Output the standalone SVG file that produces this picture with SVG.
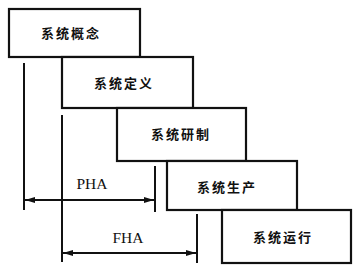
<svg xmlns="http://www.w3.org/2000/svg" width="361" height="270" viewBox="0 0 361 270">
<defs>
<style>
.box{fill:#fff;stroke:#111;stroke-width:2.2}
.lbl{font-family:"Noto Sans CJK SC","Noto Sans CJK JP",sans-serif;font-weight:bold;font-size:13px;fill:#111;text-anchor:middle;letter-spacing:2px}
.ln{stroke:#111;stroke-width:2;fill:none}
.dim{font-family:"Liberation Serif",serif;font-size:15.5px;fill:#111;text-anchor:middle}
</style>
<marker id="ah" viewBox="0 0 10 6" refX="10" refY="3" markerWidth="10" markerHeight="6" markerUnits="userSpaceOnUse" orient="auto-start-reverse">
<path d="M0,0 L10,3 L0,6 z" fill="#111"/>
</marker>
</defs>
<g id="n1"><rect class="box" x="9" y="9" width="131" height="48"/><text class="lbl" x="71" y="38">系统概念</text></g>
<g id="n2"><rect class="box" x="62" y="57" width="131" height="51"/><text class="lbl" x="124" y="88">系统定义</text></g>
<g id="n3"><rect class="box" x="117" y="108" width="129" height="53"/><text class="lbl" x="181" y="139">系统研制</text></g>
<g id="n4"><rect class="box" x="167" y="161" width="130" height="49"/><text class="lbl" x="227" y="192">系统生产</text></g>
<g id="n5"><rect class="box" x="222" y="210" width="129" height="53"/><text class="lbl" x="283" y="242">系统运行</text></g>
<g id="connectors">
<line class="ln" x1="24" y1="63" x2="24" y2="210"/>
<line class="ln" x1="62" y1="115" x2="62" y2="262"/>
<line class="ln" x1="155" y1="166" x2="155" y2="212"/>
<line class="ln" x1="197" y1="214" x2="197" y2="263"/>
<line class="ln" x1="25" y1="200" x2="154" y2="200" marker-start="url(#ah)" marker-end="url(#ah)"/>
<line class="ln" x1="63" y1="253" x2="196" y2="253" marker-start="url(#ah)" marker-end="url(#ah)"/>
<text class="dim" x="92" y="189">PHA</text>
<text class="dim" x="128" y="243">FHA</text>
</g>
</svg>
